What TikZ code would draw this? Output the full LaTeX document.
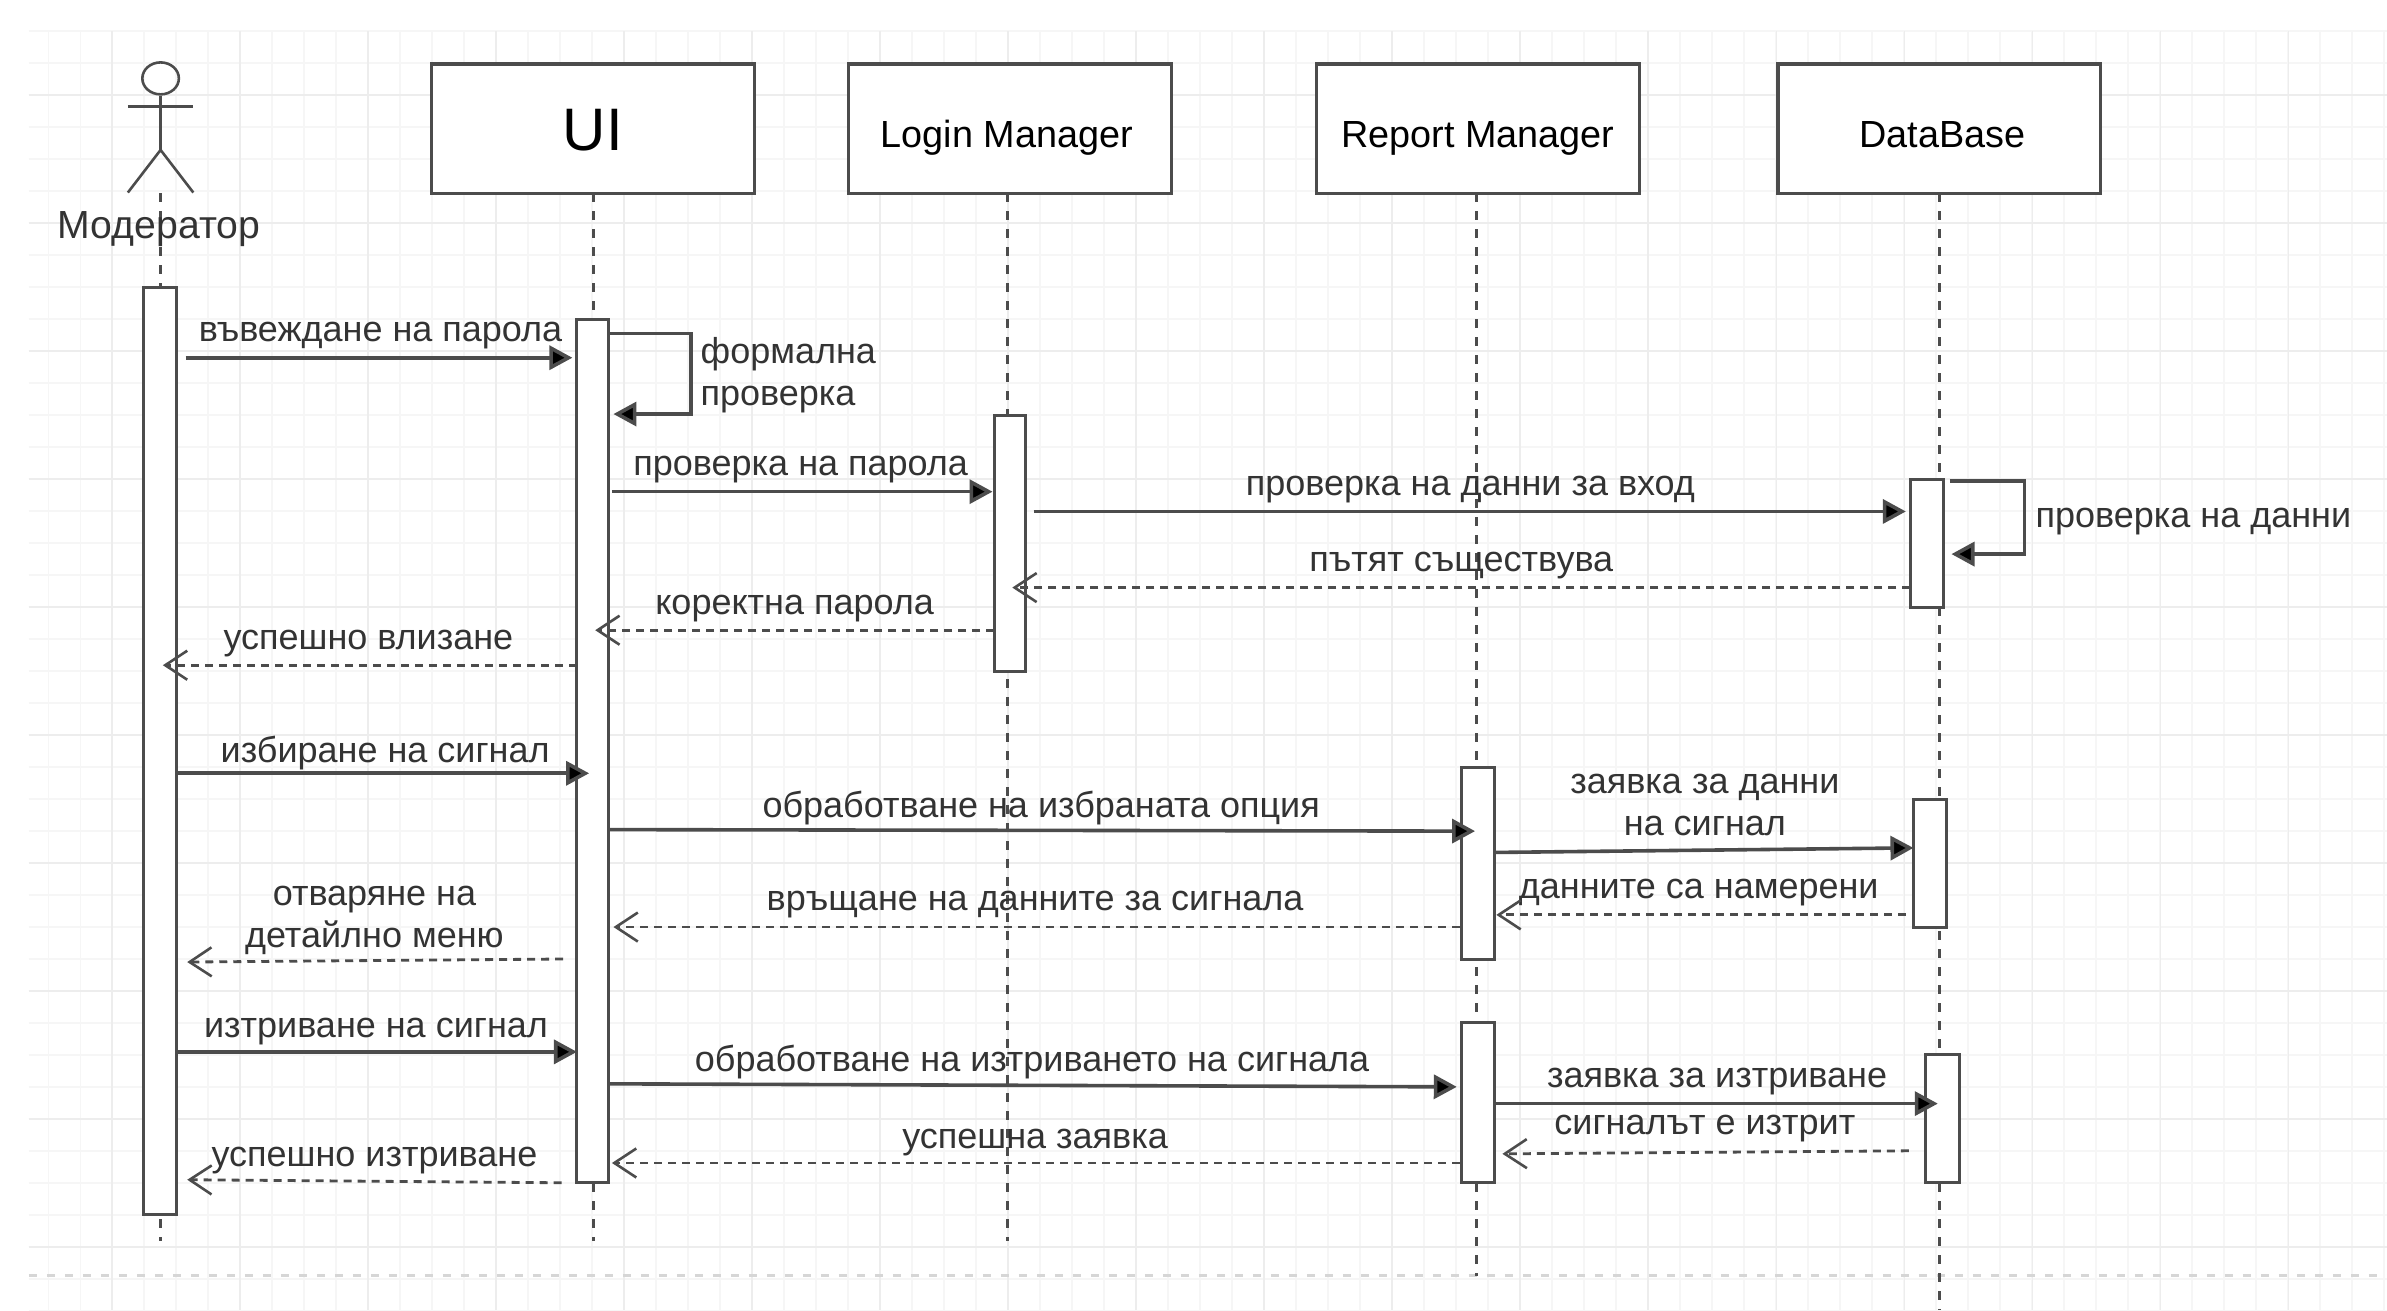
\documentclass[tikz,border=0pt]{standalone}
\usepackage{fontspec}
\setmainfont{Liberation Sans}
\usetikzlibrary{arrows.meta,calc,shapes.geometric}
\def\uu{0.76115pt}
\definecolor{ink}{gray}{0.30}
\definecolor{txt}{gray}{0.20}
\tikzset{
  gridminor/.style={draw=black!3.5,line width=0.6pt},
  gridmajor/.style={draw=black!7,line width=0.8pt},
  pagebreak/.style={draw=black!16,line width=1.5pt,dash pattern=on 4pt off 5pt},
  headbox/.style={draw=ink,fill=white,line width=1.7pt,inner sep=0pt,outer sep=0pt,minimum width=212*\uu,minimum height=85*\uu,text=black,font=\fontsize{18.9}{20}\selectfont,text height=19pt,text depth=0pt},
  actbar/.style={draw=ink,fill=white,line width=1.5pt,inner sep=0pt,outer sep=0pt},
  lifeline/.style={draw=ink,line width=1.4pt,dash pattern=on 4.5pt off 4.5pt},
  msg/.style={draw=ink,line width=1.8pt,-{Triangle[length=11.5pt,width=12pt,fill=black]}},
  reply/.style={draw=ink,line width=1.4pt,dash pattern=on 4pt off 3pt,-{Straight Barb[length=11pt,width=14.5pt,line width=1.3pt,color=ink]}},
  lbl/.style={text=txt,inner sep=0pt,font=\fontsize{18}{21}\selectfont,align=center,yshift=-2.7pt},
  lbll/.style={lbl,align=left,anchor=west},
  stick/.style={draw=ink,line width=1.3pt},
}
\newcommand\actv[5]{\node[actbar,minimum width={(#4-#2)*\uu},minimum height={(#5-#3)*\uu}] (#1) at ({(#2+#4)/2},{(#3+#5)/2}) {};}
\begin{document}
\begin{tikzpicture}[x=\uu,y=-\uu]
\useasboundingbox[fill=white] (0,0) rectangle (1568.1,860.6);
% grid
\foreach \i in {0,...,73}{\draw[gridminor] ({31.6+21.02*\i},20.5) -- ({31.6+21.02*\i},860.6);}
\foreach \i in {0,...,40}{\draw[gridminor] (19,{20.4+21.02*\i}) -- (1568.1,{20.4+21.02*\i});}
\foreach \i in {0,...,17}{\draw[gridmajor] ({73.6+84.1*\i},20.5) -- ({73.6+84.1*\i},860.6);}
\foreach \i in {0,...,9}{\draw[gridmajor] (19,{62.4+84.1*\i}) -- (1568.1,{62.4+84.1*\i});}
\coordinate (pbL) at (19,838); \coordinate (pbR) at (1568.1,838);
\draw[pagebreak] (pbL) -- (pbR);
% lifeline heads
\node[headbox,text height=22pt,font=\fontsize{30}{32}\selectfont] (ui) at (389.5,84.5) {UI};
\node[headbox] (lm) at (663.5,84.5) {\hspace*{-3pt}Login Manager};
\node[headbox] (rm) at (971,84.5) {Report Manager};
\node[headbox] (db) at (1274,84.5) {\hspace*{3pt}DataBase};
% lifelines
\coordinate (mTop) at (105.5,127); \coordinate (mBot) at (105.5,815);
\coordinate (uBot) at (390,815); \coordinate (lBot) at (662,815);
\coordinate (rBot) at (970,838); \coordinate (dBot) at (1274,860.6);
\draw[lifeline] (mTop) -- (mBot);
\draw[lifeline] (ui.south -| uBot) -- (uBot);
\draw[lifeline] (lm.south -| lBot) -- (lBot);
\draw[lifeline] (rm.south -| rBot) -- (rBot);
\draw[lifeline] (db.south -| dBot) -- (dBot);
% activations
\actv{aM}{94}{189}{116}{798}
\actv{aU}{379}{210}{400}{777}
\actv{aL}{653}{273}{674}{441}
\actv{aDa}{1255}{315}{1277}{399}
\actv{aRa}{960}{504}{982}{630}
\actv{aDb}{1257}{525}{1279}{609}
\actv{aRb}{960}{672}{982}{777}
\actv{aDc}{1265}{693}{1287}{777}
% actor
\node[draw=ink,line width=1.3pt,ellipse,inner sep=0pt,minimum width=24*\uu,minimum height=21*\uu] (head) at (105.5,51.5) {};
\coordinate (hip) at (105.5,98.5);
\coordinate (armL) at (84,70); \coordinate (armR) at (127,70);
\coordinate (legL) at (84,126.5); \coordinate (legR) at (127,126.5);
\draw[stick] (head.south) -- (hip);
\draw[stick] (armL) -- (armR);
\draw[stick] (legL) -- (hip) -- (legR);
% texts
\node[lbl,font=\fontsize{19.6}{21}\selectfont] (tM) at (104.5,147) {Модератор};
\node[lbl] (t1) at (250,217) {въвеждане на парола};
\node[lbll] (t2) at (460,243) {формална\\проверка};
\node[lbl] (t3) at (526,305) {проверка на парола};
\node[lbl] (t4) at (966,318) {проверка на данни за вход};
\node[lbll] (t5) at (1337,339) {проверка на данни};
\node[lbl] (t6) at (960,368) {пътят съществува};
\node[lbl] (t7) at (522,396) {коректна парола};
\node[lbl] (t8) at (242,419) {успешно влизане};
\node[lbl] (t9) at (253,491) {избиране на сигнал};
\node[lbl] (t10) at (684,527) {обработване на избраната опция};
\node[lbl] (t11) at (1120,525) {заявка за данни\\на сигнал};
\node[lbl] (t12) at (1116,583) {данните са намерени};
\node[lbl] (t13) at (680,591) {връщане на данните за сигнала};
\node[lbl] (t14) at (246,601) {отваряне на\\детайлно меню};
\node[lbl] (t15) at (247,674) {изтриване на сигнал};
\node[lbl] (t16) at (678,694) {обработване на изтриването на сигнала};
\node[lbl] (t17) at (1128,707) {заявка за изтриване};
\node[lbl] (t18) at (1120,738) {сигналът е изтрит};
\node[lbl] (t19) at (680,747) {успешна заявка};
\node[lbl] (t20) at (246,759) {успешно изтриване};
% messages
\draw[msg] ($(aM.east |- 0,235)+(6,0)$) -- ($(aU.west |- 0,235)+(-3,0)$);
\draw[msg] (aU.east |- 0,219) -| (454,272) -- ($(aU.east |- 0,272)+(3,0)$);
\draw[msg] ($(aU.east |- 0,323)+(2,0)$) -- ($(aL.west |- 0,323)+(-1,0)$);
\draw[msg] ($(aL.east |- 0,336)+(5,0)$) -- ($(aDa.west |- 0,336)+(-3,0)$);
\draw[msg] ($(aDa.east |- 0,316)+(4,0)$) -| (1330,364) -- ($(aDa.east |- 0,364)+(5,0)$);
\draw[reply] (aDa.west |- 0,386) -- ($(aL.east |- 0,386)+(-9,0)$);
\draw[reply] (aL.west |- 0,414) -- ($(aU.east |- 0,414)+(-9,0)$);
\draw[reply] (aU.west |- 0,437) -- ($(aM.east |- 0,437)+(-9,0)$);
\draw[msg] (aM.east |- 0,508) -- ($(aU.west |- 0,508)+(8,0)$);
\draw[msg] (aU.east |- 0,545) -- ($(aRa.west |- 0,546)+(9,0)$);
\draw[msg] (aRa.east |- 0,560) -- (aDb.west |- 0,557);
\draw[reply] ($(aDb.west |- 0,601)+(-5,0)$) -- ($(aRa.east |- 0,601)+(1,0)$);
\draw[reply] ($(aRa.west |- 0,609)+(-1,0)$) -- ($(aU.east |- 0,609)+(3,0)$);
\draw[reply] ($(aU.west |- 0,630)+(-9,0)$) -- ($(aM.east |- 0,632)+(7,0)$);
\draw[msg] ($(aM.east |- 0,691)+(-1,0)$) -- (aU.west |- 0,691);
\draw[msg] (aU.east |- 0,712) -- ($(aRb.west |- 0,714)+(-3,0)$);
\draw[msg] (aRb.east |- 0,725) -- ($(aDc.west |- 0,725)+(8,0)$);
\draw[reply] ($(aDc.west |- 0,756)+(-11,0)$) -- ($(aRb.east |- 0,758)+(5,0)$);
\draw[reply] ($(aRb.west |- 0,764)+(-1,0)$) -- ($(aU.east |- 0,764)+(2,0)$);
\draw[reply] ($(aU.west |- 0,777)+(-10,0)$) -- ($(aM.east |- 0,775)+(7,0)$);
\end{tikzpicture}
\end{document}
